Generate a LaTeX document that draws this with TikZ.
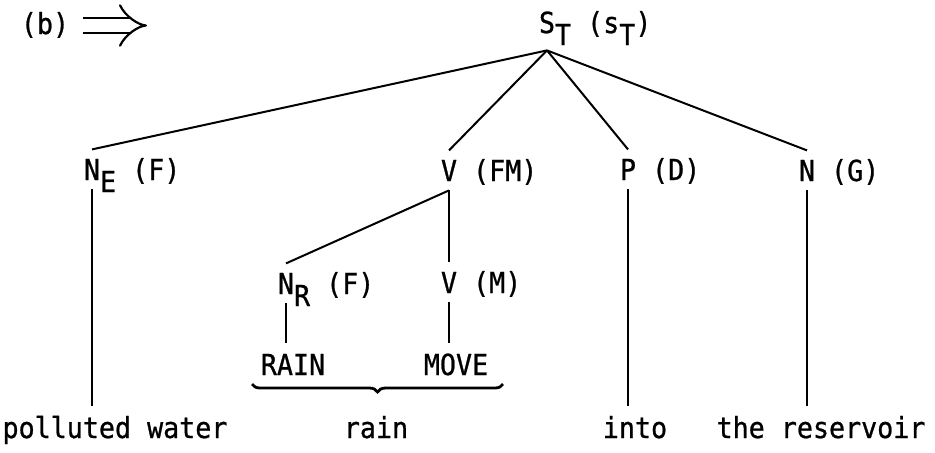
\documentclass[tikz,border=0pt]{standalone}
\usepackage{fontspec}
\newfontfamily\typewriter[FakeStretch=0.92,FakeBold=0.8]{DejaVu Sans Mono}
\usetikzlibrary{arrows.meta,decorations.pathreplacing}
\newcommand\tsub[1]{\raisebox{-6pt}{#1}}

\begin{document}
\begin{tikzpicture}[
  x=0.5pt, y=-0.5pt,
  every node/.style={font=\typewriter\fontsize{14.5}{17}\selectfont},
  catnode/.style={inner xsep=0pt, inner ysep=4.5pt, text height=10.6pt,
    text depth=0pt, anchor=base},
  leaf/.style={inner xsep=0pt, inner ysep=5pt, text height=10.6pt,
    text depth=0pt, anchor=base},
  branch/.style={line width=1pt},
  ]
  \useasboundingbox (0,0) rectangle (935,452);

  % Etiquette et fleche
  \node[leaf] (tag) at (45,34) {(b)};
  \coordinate (arrtail) at (83,25.5);
  \coordinate (arrhead) at (147,25.5);
  \draw[line width=1.1pt, double distance=6.5pt, -{Implies}] (arrtail) -- (arrhead);

  % Racine
  \node[catnode, inner ysep=8.5pt] (st) at (547,33) {S\rlap{\tsub{T} (s\tsub{T})}};

  % Premier niveau
  \node[catnode] (ne)  at (92,180)  {N\rlap{\tsub{E} (F)}};
  \node[catnode] (vfm) at (449,181) {V\rlap{ (FM)}};
  \node[catnode] (pd)  at (628,180) {P\rlap{ (D)}};
  \node[catnode] (ng)  at (807,181) {N\rlap{ (G)}};

  % Sous-arbre du verbe
  \node[catnode] (nr) at (286,294) {N\rlap{\tsub{R} (F)}};
  \node[catnode] (vm) at (449,293) {V\rlap{ (M)}};
  \node[leaf] (rainw) at (293,375) {RAIN};
  \node[leaf] (movew) at (456,375) {MOVE};

  % Mots
  \node[leaf] (pw)   at (115,438) {polluted water};
  \node[leaf] (rain) at (376,438) {rain};
  \node[leaf] (into) at (635,438) {into};
  \node[leaf] (res)  at (821,438) {the reservoir};

  % Accolade
  \coordinate (brl) at (252,384);
  \coordinate (brr) at (503,384);
  \draw[line width=1.4pt, decorate, decoration={brace, mirror, amplitude=4pt}]
    (brl) -- (brr);

  % Branches
  \draw[branch] (st.south) -- (ne.north);
  \draw[branch] (st.south) -- (vfm.north);
  \draw[branch] (st.south) -- (pd.north);
  \draw[branch] (st.south) -- (ng.north);
  \draw[branch] (vfm.south) -- (nr.north);
  \draw[branch] (vfm.south) -- (vm.north);
  \draw[branch] (nr.south) -- (nr.south |- rainw.north);
  \draw[branch] (vm.south) -- (vm.south |- movew.north);
  \draw[branch] (ne.south) -- (ne.south |- pw.north);
  \draw[branch] (pd.south) -- (pd.south |- into.north);
  \draw[branch] (ng.south) -- (ng.south |- res.north);
\end{tikzpicture}
\end{document}
